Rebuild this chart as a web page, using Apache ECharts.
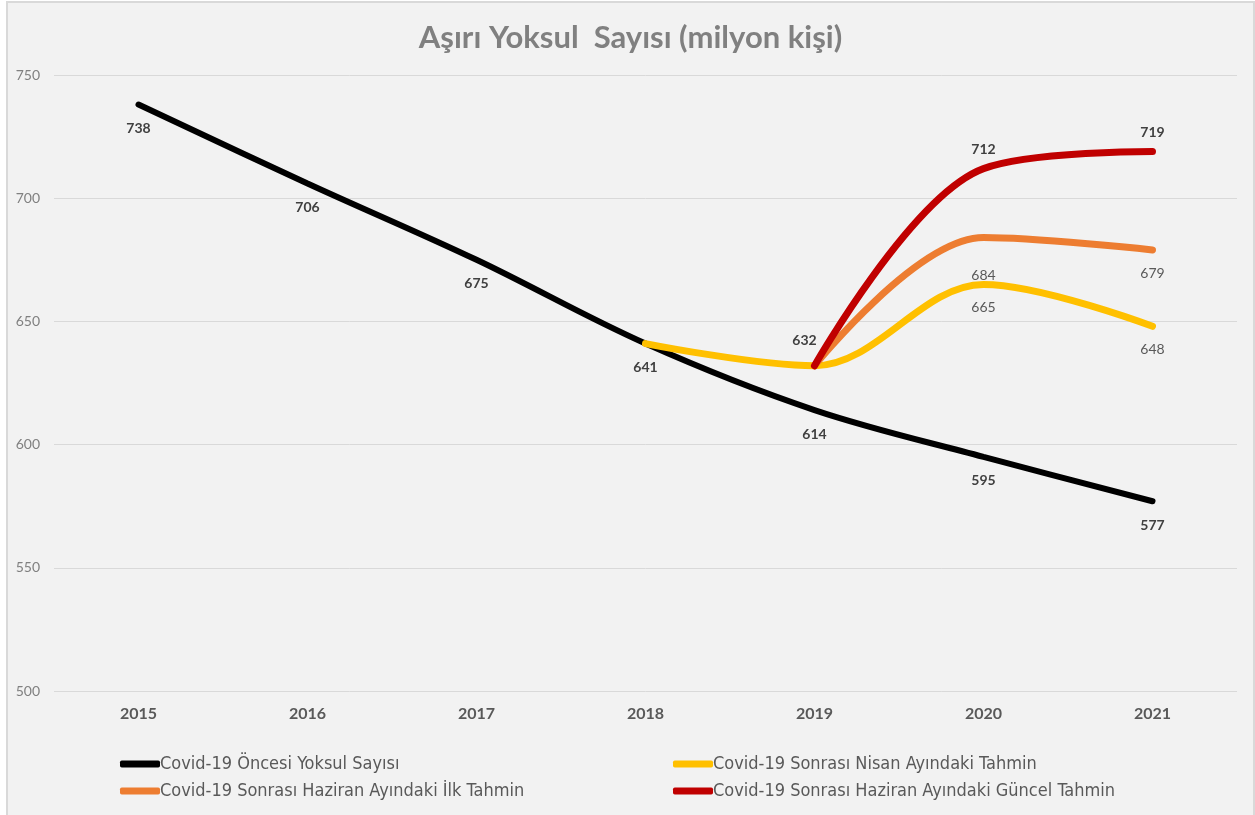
<!DOCTYPE html>
<html>
<head>
<meta charset="utf-8">
<script src="https://cdn.jsdelivr.net/npm/echarts@6/dist/echarts.min.js"></script>
<style>
  body { margin: 0; background: #ffffff; }
  #main { position: absolute; left: 6px; top: 1px; width: 1245px; height: 812px;
          border: 2px solid #d9d9d9; background: #f2f2f2; }
</style>
</head>
<body>
<div id="main"></div>
<script>
var years = ['2015', '2016', '2017', '2018', '2019', '2020', '2021'];
var oncesi = [738, 706, 675, 641, 614, 595, 577];
var nisan = [null, null, null, 641, 632, 665, 648];
var ilk = [null, null, null, null, 632, 684, 679];
var guncel = [null, null, null, null, 632, 712, 719];
var yTicks = [500, 550, 600, 650, 700, 750];

var names = [
  'Covid-19 Öncesi Yoksul Sayısı',
  'Covid-19 Sonrası Nisan Ayındaki Tahmin',
  'Covid-19 Sonrası Haziran Ayındaki İlk Tahmin',
  'Covid-19 Sonrası Haziran Ayındaki Güncel Tahmin'
];
var colors = ['#000000', '#ffc000', '#ed7d31', '#c00000'];

var font = 'Lato, "Open Sans", sans-serif';
var legendFont = '"Liberation Sans Narrow", "DejaVu Sans Condensed", sans-serif';

function legendAt(name, left, top) {
  return {
    data: [name], left: left, top: top,
    icon: 'roundRect', itemWidth: 40, itemHeight: 7, itemGap: 0,
    textStyle: { fontFamily: legendFont, fontSize: 18, color: '#595959', padding: [0, 0, 0, -5] }
  };
}

// labels: only some points show them, like the source chart
function labelled(arr, show, opts) {
  return arr.map(function (v, i) {
    if (v == null) return null;
    return { value: v, label: Object.assign({ show: !!show[i] }, opts[i] || {}) };
  });
}

var boldLbl = { fontFamily: font, fontSize: 14, fontWeight: 'bold', color: '#404040' };
var plainLbl = { fontFamily: font, fontSize: 14, color: '#595959' };

function lineSeries(i, data, width, smooth, label, z) {
  return {
    name: names[i], type: 'line', smooth: smooth,
    symbol: 'circle', symbolSize: 2, showSymbol: true,
    lineStyle: { color: colors[i], width: width, cap: 'round' },
    itemStyle: { color: colors[i] },
    data: data, label: label, z: z
  };
}

var chart = echarts.init(document.getElementById('main'));
chart.setOption({
  backgroundColor: '#f2f2f2',
  animation: false,
  title: {
    text: 'Aşırı Yoksul  Sayısı (milyon kişi)',
    left: 'center', top: 14,
    textStyle: { fontFamily: font, fontSize: 31, fontWeight: 'bold', color: '#808080' }
  },
  legend: [
    legendAt(names[0], 107, 747),
    legendAt(names[1], 660, 747),
    legendAt(names[2], 107, 774),
    legendAt(names[3], 660, 774)
  ],
  grid: { left: 46, top: 72, width: 1183, height: 616 },
  xAxis: {
    type: 'category', data: years, boundaryGap: true,
    axisLine: { show: false }, axisTick: { show: false },
    axisLabel: { margin: 15, fontFamily: font, fontSize: 16, fontWeight: 'bold', color: '#595959' }
  },
  yAxis: {
    type: 'value', min: yTicks[0], max: yTicks[yTicks.length - 1], interval: 50,
    axisLine: { show: false }, axisTick: { show: false },
    axisLabel: { margin: 14, fontFamily: font, fontSize: 14, color: '#808080' },
    splitLine: { lineStyle: { color: '#d9d9d9', width: 1 } }
  },
  series: [
    lineSeries(0, labelled(oncesi, [1, 1, 1, 1, 1, 1, 1], {}), 6, 0.35,
      Object.assign({ position: 'bottom', distance: 16 }, boldLbl), 2),
    lineSeries(1, labelled(nisan, [0, 0, 0, 0, 0, 1, 1], {}), 7, 0.35,
      Object.assign({ position: 'bottom', distance: 15 }, plainLbl), 3),
    lineSeries(2, labelled(ilk, [0, 0, 0, 0, 0, 1, 1], { 5: { offset: [0, 14] } }), 7, 0.35,
      Object.assign({ position: 'bottom', distance: 16 }, plainLbl), 4),
    lineSeries(3, labelled(guncel, [0, 0, 0, 0, 1, 1, 1], { 4: { offset: [-10, -6] } }), 7, 0.35,
      Object.assign({ position: 'top', distance: 11 }, boldLbl), 5)
  ]
});
</script>
</body>
</html>
